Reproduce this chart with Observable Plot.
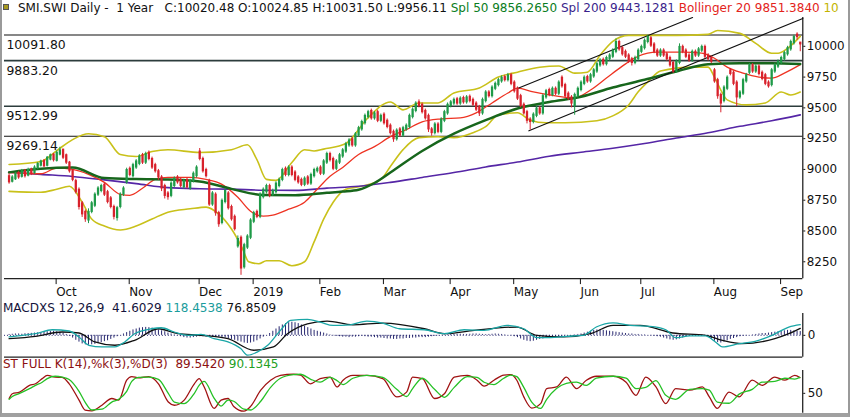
<!DOCTYPE html>
<html><head><meta charset="utf-8">
<script src="https://cdn.jsdelivr.net/npm/d3@7"></script>
<script src="https://cdn.jsdelivr.net/npm/@observablehq/plot@0.6"></script>
<style>
body{margin:0;background:#fff;}
#wrap{position:relative;width:850px;height:417px;overflow:hidden;font-family:"DejaVu Sans",sans-serif;background:#fff;box-sizing:border-box;border-left:2px solid #9a9a9a;border-right:2px solid #9a9a9a;border-bottom:4px solid #a0a0a0;}
.hdr{position:absolute;white-space:pre;font-size:12px;line-height:14px;}
.panel{position:absolute;left:-2px;}
.sq{position:absolute;left:1px;top:4px;width:4px;height:4px;background:#a89a20;border:1px solid #555;}
</style></head><body>
<div id="wrap">
  <span class="sq"></span>
  <div id="main" class="panel" style="top:17px"></div>
  <div id="macd" class="panel" style="top:313px"></div>
  <div id="stoch" class="panel" style="top:370px"></div>
  <div class="hdr" style="left:16px;top:1px"><span style="color:#111">SMI.SWI Daily -  1 Year   C:10020.48 O:10024.85 H:10031.50 L:9956.11 </span><span style="color:#0a7d22">Spl 50 9856.2650 </span><span style="color:#3a1f8c">Spl 200 9443.1281 </span><span style="color:#e3231b">Bollinger 20 9851.3840 </span><span style="color:#c2b400">10</span></div>
  <div class="hdr" style="left:1px;top:301px"><span style="color:#14143c">MACDXS 12,26,9  41.6029 </span><span style="color:#1a9c9c">118.4538 </span><span style="color:#111">76.8509</span></div>
  <div class="hdr" style="left:1px;top:357px"><span style="color:#8c1010">ST FULL K(14),%k(3),%D(3)  89.5420 </span><span style="color:#22a022">90.1345</span></div>
</div>
<script>
// ---- price data (daily OHLC, 250 trading days, Sep 10 2018 - Sep 10 2019) ----
const close = [
8900,8930,8960,8940,8980,8950,8990,8970,9010,9040,
9060,9030,9090,9110,9080,9130,9150,9100,9060,8990,
8920,8820,8700,8640,8600,8650,8720,8790,8840,8860,
8800,8740,8700,8620,8680,8790,8840,8990,8960,9030,
9060,9100,9060,9120,9090,9020,8990,8940,8850,8790,
8780,8880,8920,8900,8870,8900,8860,8900,8960,9010,
9090,8990,8950,8720,8800,8650,8560,8740,8820,8690,
8600,8520,8430,8200,8380,8450,8580,8640,8620,8790,
8830,8860,8790,8820,8880,8910,8990,8960,9010,8960,
8920,8900,8880,8920,8890,8950,8990,9000,8970,9060,
9120,9080,9010,9060,9110,9150,9200,9230,9200,9280,
9330,9380,9430,9460,9420,9450,9400,9430,9380,9350,
9300,9250,9310,9280,9330,9350,9430,9480,9530,9520,
9470,9420,9330,9300,9360,9310,9400,9460,9520,9540,
9560,9540,9570,9550,9580,9560,9530,9490,9460,9560,
9620,9600,9660,9690,9720,9740,9730,9760,9700,9640,
9580,9520,9460,9400,9390,9440,9490,9460,9590,9630,
9610,9650,9620,9700,9680,9600,9580,9540,9600,9650,
9700,9740,9720,9760,9800,9850,9880,9860,9900,9920,
9960,10030,9980,9940,9920,9880,9870,9900,9960,9990,
10040,10070,10010,9960,9930,9960,9930,9900,9850,9800,
9870,9990,9960,9920,9890,9950,9930,9970,9990,9920,
9900,9880,9720,9600,9540,9660,9740,9780,9700,9590,
9620,9720,9760,9840,9800,9830,9780,9740,9700,9680,
9800,9840,9870,9900,9940,9980,10030,10070,10080,10020.48];
const open = [
8940,8905,8925,8965,8945,8985,8955,8995,8975,9015,
9035,9065,9035,9085,9115,9075,9125,9155,9110,9050,
8985,8900,8830,8720,8650,8590,8660,8710,8800,8830,
8870,8810,8760,8690,8610,8700,8800,8900,9000,8950,
9020,9050,9110,9060,9130,9080,9030,8980,8930,8860,
8800,8790,8870,8930,8910,8860,8910,8850,8910,8950,
9140,9080,8990,8900,8720,8790,8640,8570,8740,8800,
8690,8610,8380,8440,8210,8370,8450,8580,8650,8620,
8780,8820,8860,8800,8820,8870,8920,9000,8960,9010,
8970,8930,8910,8880,8930,8890,8950,8990,9010,8970,
9060,9120,9080,9010,9060,9110,9150,9200,9240,9200,
9280,9330,9380,9430,9470,9420,9460,9400,9440,9390,
9350,9300,9250,9320,9280,9330,9350,9430,9480,9540,
9520,9470,9430,9320,9300,9360,9310,9400,9460,9520,
9540,9565,9540,9575,9550,9585,9560,9530,9500,9460,
9560,9620,9600,9660,9690,9720,9745,9730,9760,9700,
9650,9590,9520,9460,9400,9390,9440,9490,9460,9590,
9640,9610,9650,9620,9740,9680,9610,9580,9520,9600,
9650,9700,9745,9720,9760,9800,9850,9885,9860,9900,
9920,9960,10030,9980,9950,9920,9890,9870,9900,9960,
9990,10040,10060,10010,9960,9930,9960,9930,9900,9860,
9800,9870,9990,9960,9920,9890,9950,9930,9970,9990,
9920,9900,9800,9720,9600,9560,9660,9800,9780,9700,
9590,9620,9720,9790,9840,9800,9830,9780,9760,9700,
9690,9800,9840,9870,9900,9940,9980,10030,10090,10024.85];
const high = [
8965,8950,8975,8985,9000,9000,9010,9010,9030,9055,
9075,9080,9105,9125,9130,9150,9180,9165,9125,9065,
9000,8920,8850,8740,8670,8680,8740,8810,8860,8880,
8890,8830,8780,8710,8700,8810,8860,9010,9020,9050,
9080,9120,9130,9140,9150,9100,9050,9000,8950,8880,
8820,8900,8940,8950,8930,8920,8930,8920,8980,9030,
9170,9100,9010,8920,8820,8810,8660,8760,8840,8820,
8710,8630,8460,8460,8400,8470,8600,8660,8670,8810,
8850,8880,8880,8840,8900,8930,9010,9020,9030,9030,
8990,8950,8930,8940,8950,8970,9010,9020,9030,9080,
9140,9140,9100,9080,9130,9170,9220,9250,9260,9300,
9350,9400,9450,9480,9490,9470,9480,9450,9460,9410,
9370,9320,9330,9340,9350,9370,9450,9500,9550,9565,
9540,9490,9450,9340,9380,9380,9420,9480,9540,9560,
9580,9585,9590,9595,9600,9605,9580,9550,9520,9580,
9640,9640,9680,9710,9740,9760,9765,9780,9780,9720,
9670,9610,9540,9480,9420,9460,9510,9510,9610,9650,
9660,9670,9670,9720,9760,9700,9630,9600,9620,9670,
9720,9760,9765,9780,9820,9870,9900,9905,9920,9940,
9980,10060,10050,10000,9970,9940,9910,9920,9980,10010,
10060,10090,10080,10030,9980,9980,9980,9950,9920,9880,
9890,10020,10010,9980,9940,9970,9970,9990,10010,10010,
9940,9920,9820,9740,9620,9680,9760,9820,9800,9720,
9640,9740,9780,9860,9860,9850,9850,9800,9780,9720,
9820,9860,9890,9920,9960,10000,10050,10090,10110,10031.5];
const low = [
8880,8890,8910,8920,8930,8930,8940,8950,8960,9000,
9020,9015,9020,9070,9060,9060,9110,9080,9040,8970,
8900,8800,8670,8610,8570,8560,8640,8690,8780,8810,
8780,8720,8680,8590,8580,8680,8780,8880,8940,8930,
9000,9030,9040,9040,9070,9000,8970,8910,8820,8760,
8750,8770,8850,8880,8850,8840,8840,8830,8890,8930,
9070,8970,8930,8700,8700,8620,8530,8550,8720,8670,
8580,8500,8360,8140,8190,8350,8430,8560,8600,8600,
8760,8800,8770,8780,8800,8850,8900,8940,8940,8940,
8900,8880,8860,8860,8870,8870,8930,8970,8950,8950,
9040,9060,8990,8990,9040,9090,9130,9180,9180,9180,
9260,9310,9360,9410,9400,9400,9380,9380,9360,9330,
9280,9220,9230,9260,9260,9310,9330,9410,9460,9500,
9450,9400,9300,9270,9280,9290,9290,9380,9440,9500,
9520,9520,9520,9530,9530,9540,9510,9470,9430,9440,
9540,9580,9580,9640,9670,9700,9710,9710,9680,9620,
9560,9500,9440,9370,9320,9370,9420,9440,9440,9570,
9590,9590,9600,9600,9660,9580,9560,9500,9440,9580,
9630,9680,9700,9700,9740,9780,9830,9840,9840,9880,
9900,9940,9960,9920,9900,9860,9840,9850,9880,9940,
9970,10020,9990,9940,9910,9910,9910,9880,9830,9780,
9780,9850,9940,9900,9870,9870,9910,9910,9950,9900,
9880,9860,9700,9570,9460,9540,9640,9760,9680,9510,
9570,9600,9700,9770,9780,9780,9760,9720,9680,9660,
9670,9780,9820,9850,9880,9920,9960,10010,10050,9956.11];

// month labels: trading-day index of first session of each month
const monthIdx = [15, 38, 60, 77, 98, 118, 139, 159, 180, 199, 222, 243];
const monthLbl = ["Oct","Nov","Dec","2019","Feb","Mar","Apr","May","Jun","Jul","Aug","Sep"];
const priceTicks = [8250, 8500, 8750, 9000, 9250, 9500, 9750, 10000];
const levels = [10091.80, 9883.20, 9512.99, 9269.14];
const levelStrong = [false, true, true, false];

// indicator lines: [trading-day index, value]
const sma50 = [[0,8976],[10,9005],[20,9015],[30,8930],[40,8922],[50,8919],[60,8902],[70,8842],[80,8792],[90,8790],[100,8810],[105,8820],[110,8835],[115,8890],[120,8975],[130,9150],[140,9290],[150,9400],[160,9495],[170,9548],[180,9590],[190,9665],[200,9728],[210,9795],[220,9855],[230,9863],[240,9862],[249,9856]];
const sma200 = [[0,8978],[10,8960],[20,8943],[30,8915],[40,8885],[50,8852],[60,8843],[70,8840],[80,8831],[90,8830],[100,8848],[110,8863],[120,8895],[130,8935],[140,8975],[150,9020],[160,9060],[170,9107],[180,9140],[190,9172],[200,9210],[210,9255],[220,9298],[230,9350],[240,9395],[249,9443]];
const bbMid = [[0,8975],[10,8965],[15,9010],[20,9000],[25,8960],[30,8895],[35,8798],[38,8790],[42,8847],[46,8919],[50,8935],[57,8935],[62,8919],[67,8879],[72,8774],[76,8661],[80,8621],[83,8629],[88,8677],[93,8734],[97,8839],[101,8944],[105,9016],[110,9121],[115,9185],[120,9266],[125,9323],[130,9387],[136,9411],[142,9419],[147,9460],[152,9540],[157,9621],[160,9661],[165,9629],[172,9597],[178,9581],[183,9645],[188,9742],[193,9839],[198,9919],[204,9952],[212,9952],[218,9944],[222,9903],[226,9831],[231,9782],[236,9750],[240,9742],[244,9782],[249,9851]];
const bbUpper = [[0,9040],[10,9064],[15,9153],[20,9242],[25,9290],[30,9266],[35,9121],[40,9105],[45,9145],[50,9160],[60,9137],[70,9160],[75,9200],[78,9080],[81,8919],[84,8911],[89,9056],[93,9160],[96,9150],[99,9165],[106,9210],[113,9420],[120,9548],[124,9484],[129,9540],[135,9540],[140,9621],[148,9661],[154,9750],[160,9790],[167,9830],[173,9840],[178,9782],[182,9790],[186,9927],[190,10040],[195,10089],[210,10089],[220,10097],[223,10129],[230,10105],[235,10024],[240,9944],[242,9944],[245,9984],[249,10081]];
const bbLower = [[0,8822],[10,8814],[15,8839],[19,8863],[23,8734],[26,8597],[30,8540],[35,8508],[40,8540],[45,8597],[50,8653],[57,8680],[62,8694],[66,8637],[70,8516],[73.5,8355],[75.4,8250],[78.6,8234],[81,8258],[85,8258],[89,8218],[93,8250],[96,8411],[99,8597],[102,8734],[106,8839],[111,8863],[117,8919],[120,9024],[124,9161],[129,9258],[135,9266],[140,9258],[146,9298],[150,9347],[154,9444],[160,9460],[164,9400],[169,9379],[175,9379],[185,9395],[190,9435],[195,9524],[198,9630],[201,9710],[205,9800],[215,9831],[220,9831],[222,9750],[224,9645],[226,9565],[232,9524],[238,9540],[243,9629],[246,9605],[249,9629]];
const trend1 = [[160.4,9661],[215.1,10234]];
const trend2 = [[163.6,9314],[249.8,10226]];

// MACD (12,26,9)
const macdLine = [[0,-18],[4.2,0],[8.3,18],[13.6,62],[18.9,48],[22,-18],[25.1,-110],[29.2,-128],[33.3,-128],[36.4,-73],[39.5,18],[44.8,73],[47.9,84],[52,37],[56.4,0],[60.4,11],[64.5,-37],[68.9,-73],[72.9,-147],[75.1,-220],[78.2,-183],[81.4,-110],[85.4,55],[88.6,165],[93.9,176],[97.9,147],[102,110],[107.3,117],[112.6,158],[117.6,136],[122.9,73],[130.7,62],[137,18],[143.2,62],[149.5,55],[156.7,110],[162,73],[166.1,-26],[170.4,-26],[175.4,-11],[180.8,0],[184.8,92],[190.1,139],[195.4,110],[201.7,99],[206.7,62],[209.8,-26],[214.2,-7],[219.2,-7],[222.3,-73],[224.5,-128],[229.8,-92],[234.8,-66],[240.1,0],[245.4,92],[249,118]];
const macdSignal = [[0,-37],[8.3,-11],[16.7,37],[22,26],[27,-73],[33.3,-110],[39.5,-55],[47,73],[53.2,18],[60.4,0],[68.9,-37],[77,-165],[83.2,-128],[87.6,18],[93.9,128],[100.1,158],[108.2,117],[117.6,136],[130.7,73],[137,18],[146.4,55],[159.8,92],[166.1,0],[174.5,-18],[183,18],[190.1,110],[198.6,110],[208.9,26],[219.2,0],[224.5,-55],[230.7,-92],[241,-37],[245.4,18],[249,77]];
const macdHist = [
10,12,15,15,12,18,20,22,25,28,30,
35,40,42,45,40,35,25,10,
-10,-30,-55,-75,-95,-105,-110,-105,-100,-90,-80,
-70,-60,-45,-30,-15,0,
15,30,45,60,70,80,85,88,85,80,70,60,50,40,
25,15,5,-5,-15,-25,-30,-30,
-25,-20,-15,-15,-20,-20,-18,-15,-20,-25,-30,-35,-45,
-55,-65,-75,-85,-90,-85,-75,
-60,-40,-20,0,20,
45,70,95,115,130,140,145,140,130,
115,100,85,70,55,45,35,25,15,5,
-5,-10,-15,-20,-20,-25,-20,-20,-15,-10,-15,-20,-20,-25,-30,-30,
-35,-40,-40,-45,-45,-40,-40,-35,-35,-30,-30,-25,-25,
-25,-20,-15,-10,-5,0,
5,5,10,10,12,12,10,10,12,15,15,12,10,8,10,12,15,12,10,5,
0,-5,-15,-25,-40,
-55,-65,-70,-65,-55,-45,
-40,-35,-30,-25,-20,-15,
-10,-5,0,0,5,10,15,25,
35,45,55,60,60,55,50,45,40,35,30,
25,20,15,15,10,10,5,5,0,-5,-10,-15,-20,
-30,-40,-50,-55,-50,-40,-30,-20,
-10,-5,0,0,-5,-10,
-25,-45,-65,-80,-85,-75,-60,
-45,-35,-25,-15,-10,-5,
0,5,10,15,20,20,25,30,35,
40,45,50,55,55,50,45,42];

// Stochastic full K(14),%k(3),%D(3)
const stochK = [[0,37],[1,49],[3.3,53],[6.4,70],[8.3,74],[10.4,87],[12,95],[14.5,91],[16.7,90],[18.9,74],[22,33],[23.9,8],[26,6],[29.2,20],[32.3,37],[34.5,33],[37,83],[38.6,92],[40.7,89],[43.9,92],[47,74],[50.1,28],[52,20],[55.1,33],[58.3,74],[59.8,87],[61.4,66],[64.5,12],[66.7,33],[68.9,37],[70.7,17],[73.9,5],[76,17],[79.2,58],[82.3,83],[85.4,95],[89.5,98],[91.7,96],[94.8,74],[97.9,87],[101,91],[103.2,66],[105.1,83],[108.2,95],[112.6,95],[117.6,87],[122,41],[125.1,53],[127,91],[130.1,87],[133.9,37],[137,49],[140.1,91],[144.2,95],[147.3,83],[149.5,68],[152.6,83],[155.7,96],[157.9,97],[159.8,83],[162,41],[164.5,13],[167.3,24],[169.2,62],[172.3,66],[175.4,91],[178.6,62],[181.7,83],[184.8,93],[190.1,93],[194.2,78],[197.3,45],[200.4,91],[203.6,66],[206.7,24],[209.8,62],[214.2,58],[218.2,66],[220.4,41],[222.9,12],[226.6,53],[229.8,41],[233.9,83],[237,70],[241,91],[244.2,83],[247.3,95],[248.9,89.5]];
const stochD = [[0,35],[1,42],[3.3,50],[6.4,62],[8.3,70],[10.4,78],[12,87],[14.5,93],[16.7,91],[18.9,85],[22,55],[23.9,28],[26,8],[29.2,10],[32.3,28],[34.5,35],[37,55],[38.6,80],[40.7,90],[43.9,91],[47,85],[50.1,50],[52,28],[55.1,24],[58.3,50],[59.8,70],[61.4,80],[64.5,38],[66.7,18],[68.9,33],[70.7,30],[73.9,10],[76,8],[79.2,30],[82.3,65],[85.4,88],[89.5,97],[91.7,98],[94.8,86],[97.9,78],[101,90],[103.2,82],[105.1,72],[108.2,88],[112.6,95],[117.6,90],[122,60],[125.1,42],[127,62],[130.1,88],[133.9,60],[137,40],[140.1,65],[144.2,92],[147.3,90],[149.5,78],[152.6,72],[155.7,88],[157.9,96],[159.8,92],[162,65],[164.5,28],[167.3,12],[169.2,35],[172.3,62],[175.4,75],[178.6,78],[181.7,70],[184.8,88],[190.1,93],[194.2,88],[197.3,62],[200.4,65],[203.6,82],[206.7,45],[209.8,35],[214.2,60],[218.2,62],[220.4,58],[222.9,28],[226.6,25],[229.8,48],[233.9,60],[237,78],[241,80],[244.2,88],[247.3,86],[248.9,90.1]];

// ---- drawing ----
const W = 854;
const xDom = [-1.44, 249.8];
const ML = 4, MR = 46;
const font = {fontFamily: "DejaVu Sans", fontSize: "12px", background: "transparent", color: "#111", overflow: "visible"};
const pts = a => a.map(([i, v]) => ({i, v}));
const days = d3.range(close.length).map(i => ({i, o: open[i], h: high[i], l: low[i], c: close[i]}));
const candleCol = d => d.c >= d.o ? "#1e9a48" : "#d8212b";
const lblMap = new Map(monthIdx.map((m, k) => [m - 0.5, monthLbl[k]]));
const curve = "monotone-x";

const main = Plot.plot({
  width: W, height: 296, marginTop: 0, marginBottom: 33, marginLeft: ML, marginRight: MR,
  x: {domain: xDom, axis: null},
  y: {domain: [8113, 10234], axis: null},
  style: font,
  marks: [
    Plot.ruleY(levels.map((v, k) => ({v, s: levelStrong[k]})), {y: "v", stroke: d => d.s ? "#2c3c3c" : "#111", strokeWidth: d => d.s ? 1.7 : 1.1}),
    Plot.text(levels, {x: xDom[0], y: d => d, text: d => d.toFixed(2), textAnchor: "start", dx: 2, dy: 10, fontSize: 12.5, fill: "#111"}),
    Plot.line(pts(bbUpper), {x: "i", y: "v", stroke: "#c9c11a", strokeWidth: 1.6, curve}),
    Plot.line(pts(bbLower), {x: "i", y: "v", stroke: "#c9c11a", strokeWidth: 1.6, curve}),
    Plot.line(pts(sma200), {x: "i", y: "v", stroke: "#5526a6", strokeWidth: 1.6, curve}),
    Plot.line(pts(bbMid), {x: "i", y: "v", stroke: "#ee3322", strokeWidth: 1.3, curve}),
    Plot.line(pts(sma50), {x: "i", y: "v", stroke: "#17661c", strokeWidth: 2.5, curve}),
    Plot.line(pts(trend1), {x: "i", y: "v", stroke: "#111", strokeWidth: 1.2}),
    Plot.line(pts(trend2), {x: "i", y: "v", stroke: "#111", strokeWidth: 1.2}),
    Plot.ruleX(days, {x: "i", y1: "l", y2: "h", stroke: candleCol, strokeWidth: 1}),
    Plot.ruleX(days, {x: "i", y1: "o", y2: "c", stroke: candleCol, strokeWidth: 2.3, strokeLinecap: "square"}),
    Plot.ruleY([8113], {stroke: "#222", strokeWidth: 1.2}),
    Plot.ruleX([xDom[1]], {stroke: "#111", strokeWidth: 1.2}),
    Plot.axisY(priceTicks, {anchor: "right", tickSize: 2, tickPadding: 2, fontSize: 12, label: null, tickFormat: d3.format("d")}),
    Plot.axisX([...lblMap.keys()], {anchor: "bottom", tickFormat: d => lblMap.get(d), textAnchor: "start", dx: 1, tickSize: 6, tickPadding: 3, fontSize: 12, label: null})
  ]
});
document.getElementById("main").appendChild(main);

const macd = Plot.plot({
  width: W, height: 44, marginTop: 0, marginBottom: 0, marginLeft: ML, marginRight: MR,
  x: {domain: xDom, axis: null},
  y: {domain: [-242, 242], axis: null},
  style: font,
  marks: [
    Plot.ruleX(macdHist.map((v, i) => ({i, v})), {x: "i", y1: 0, y2: "v", stroke: "#25256e", strokeWidth: 1}),
    Plot.ruleY([0], {stroke: "#25256e", strokeDasharray: "1,2"}),
    Plot.line(pts(macdSignal), {x: "i", y: "v", stroke: "#111", strokeWidth: 1.3, curve}),
    Plot.line(pts(macdLine), {x: "i", y: "v", stroke: "#1aa6a6", strokeWidth: 1.3, curve}),
    Plot.ruleY([-242], {stroke: "#222", strokeWidth: 1.2}),
    Plot.ruleX([xDom[1]], {stroke: "#111", strokeWidth: 1.2}),
    Plot.axisY([0], {anchor: "right", tickSize: 2, tickPadding: 3, fontSize: 12, label: null})
  ]
});
document.getElementById("macd").appendChild(macd);

const stoch = Plot.plot({
  width: W, height: 43, marginTop: 0, marginBottom: 0, marginLeft: ML, marginRight: MR,
  x: {domain: xDom, axis: null},
  y: {domain: [0, 107.5], axis: null},
  style: font,
  marks: [
    Plot.line(pts(stochK), {x: "i", y: "v", stroke: "#a01212", strokeWidth: 1.3, curve}),
    Plot.line(pts(stochD), {x: "i", y: "v", stroke: "#25c025", strokeWidth: 1.3, curve}),
    Plot.ruleX([xDom[1]], {stroke: "#111", strokeWidth: 1.2}),
    Plot.axisY([50], {anchor: "right", tickSize: 2, tickPadding: 3, fontSize: 12, label: null})
  ]
});
document.getElementById("stoch").appendChild(stoch);
</script>
</body></html>
